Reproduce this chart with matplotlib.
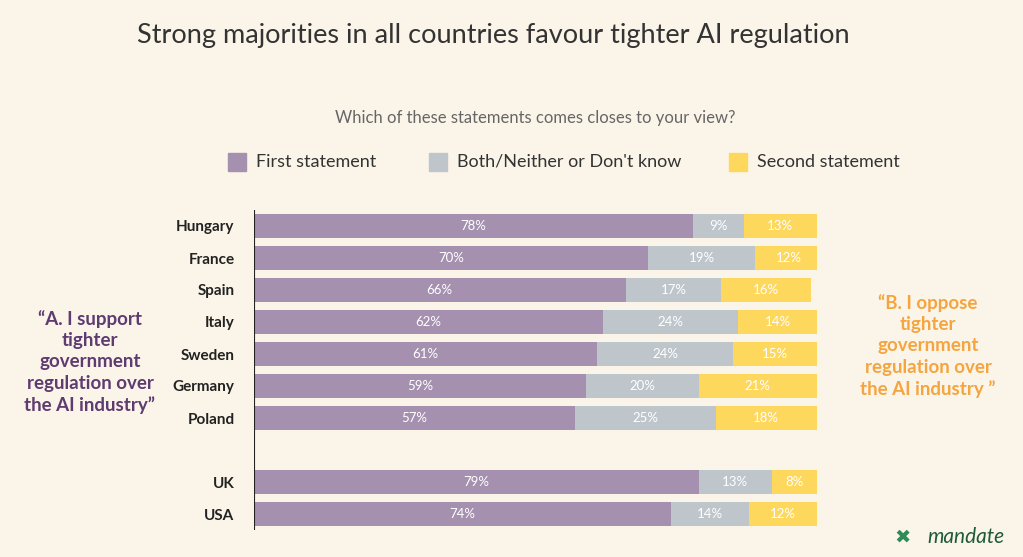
import matplotlib.pyplot as plt
from matplotlib.patches import Rectangle

countries = ["Hungary","France","Spain","Italy","Sweden","Germany","Poland","UK","USA"]
first = [78,70,66,62,61,59,57,79,74]
both = [9,19,17,24,24,20,25,13,14]
second = [13,12,16,14,15,21,18,8,12]
positions = [0,1,2,3,4,5,6,8,9]

bg = "#FBF5E9"
cols = ["#A590B0", "#BEC6CB", "#FDD85D"]
W, H = 1023, 557
fig = plt.figure(figsize=(W/100, H/100), dpi=100, facecolor=bg)
ax = fig.add_axes([254/W, 1-530/H, (817-254)/W, (530-210)/H])
ax.set_facecolor(bg)
ax.set_xlim(0, 100)
ax.set_ylim(9.5, -0.5)
h = 0.74
left = [0]*len(first)
for vals, c in zip([first, both, second], cols):
    ax.barh(positions, vals, left=left, height=h, color=c, edgecolor="none")
    for p, v, l in zip(positions, vals, left):
        ax.text(l+v/2, p, f"{v}%", ha="center", va="center", color="white", fontsize=9.5, family="Lato")
    left = [a+b for a, b in zip(left, vals)]
ax.set_yticks(positions)
ax.set_yticklabels(countries, fontsize=11, fontweight="bold", family="Lato", color="#222222")
ax.tick_params(axis="y", length=0, pad=14)
ax.set_xticks([])
for s in ax.spines.values():
    s.set_visible(False)
ax.axvline(0, color="#222222", lw=0.8, ymin=0, ymax=1)

fig.text(493/W, 1-36/H, "Strong majorities in all countries favour tighter AI regulation",
         ha="center", va="center", fontsize=19.5, family="Lato", color="#333333")
fig.text(535/W, 1-118/H, "Which of these statements comes closes to your view?",
         ha="center", va="center", fontsize=12, family="Lato", color="#666666")
legend = [("First statement", 228), ("Both/Neither or Don't know", 429), ("Second statement", 729)]
for (lab, x), c in zip(legend, cols):
    fig.patches.append(Rectangle((x/W, 1-171/H), 18/W, 18/H, transform=fig.transFigure, color=c))
    fig.text((x+28)/W, 1-162/H, lab, ha="left", va="center", fontsize=13, family="Lato", color="#333333")

fig.text(90/W, 1-362/H, "\u201cA. I support\ntighter\ngovernment\nregulation over\nthe AI industry\u201d",
         ha="center", va="center", fontsize=13.5, fontweight="bold", family="Lato", color="#5E3B70", linespacing=1.3)
fig.text(928/W, 1-346/H, "\u201cB. I oppose\ntighter\ngovernment\nregulation over\nthe AI industry \u201d",
         ha="center", va="center", fontsize=13.5, fontweight="bold", family="Lato", color="#F5A53F", linespacing=1.3)
fig.text(1005/W, 1-537/H, "mandate", ha="right", va="center", fontsize=15, style="italic", family="Lato", color="#1F5A3A")
fig.text(903/W, 1-537/H, "\u2716", ha="center", va="center", fontsize=14, color="#2E8B57")
fig.savefig("out.png", dpi=100, facecolor=bg)
